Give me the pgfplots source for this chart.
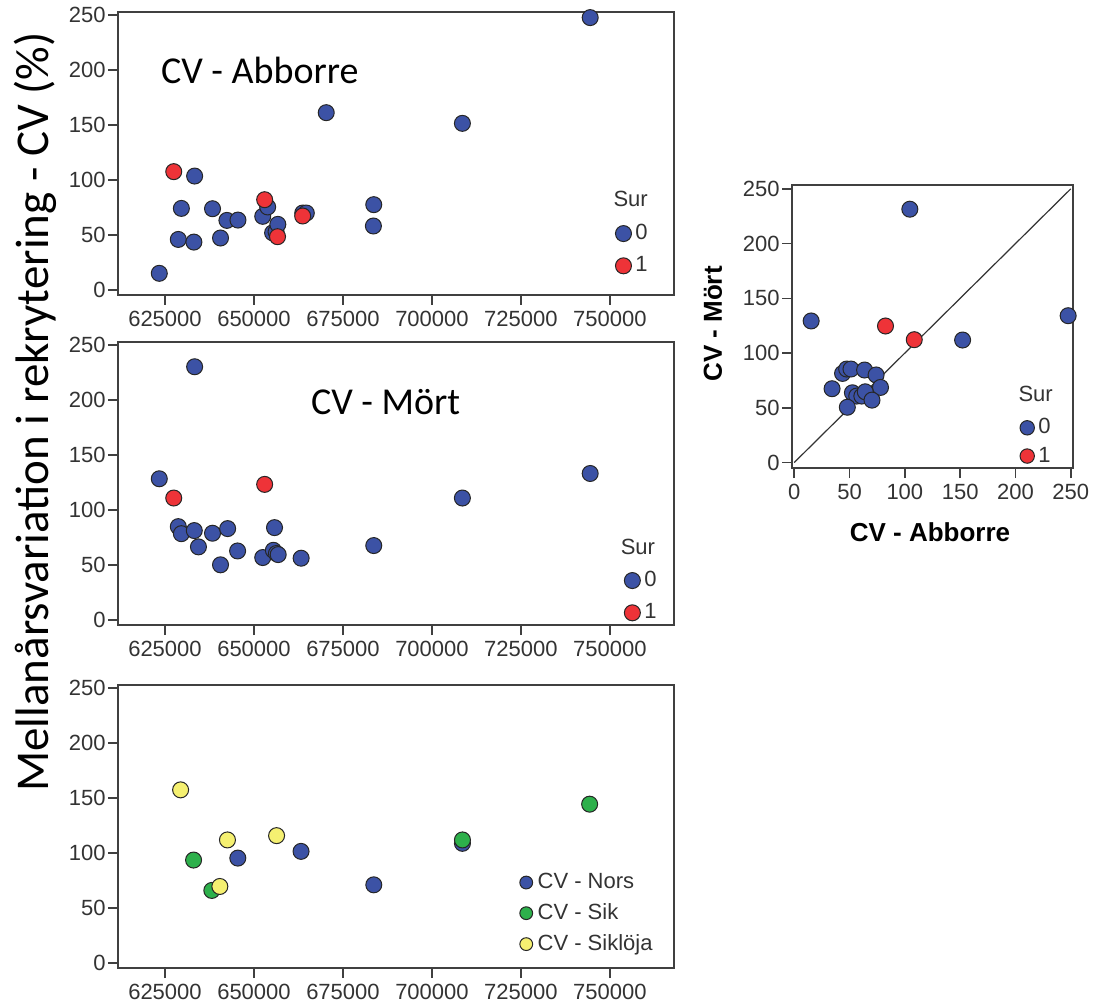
\documentclass[border=0pt]{standalone}
\usepackage{pgfplots}
\pgfplotsset{compat=1.18}
\usepackage{fontspec}
\setmainfont{Liberation Sans}
\newfontfamily\calfont{Carlito}

\definecolor{sblue}{RGB}{60,82,165}
\definecolor{sred}{RGB}{238,51,56}
\definecolor{sgreen}{RGB}{45,176,75}
\definecolor{syellow}{RGB}{245,240,113}

\pgfplotsset{
  spss/.style={
    scale only axis,
    axis line style={black!75, line width=0.8pt},
    tick style={black!75, line width=0.8pt},
    major tick length=5pt,
    tick align=outside,
    xtick pos=left, ytick pos=left,
    ticklabel style={font=\fontsize{11}{13}\selectfont, text=black!80},
    yticklabel style={inner sep=1pt},
    xticklabel style={inner sep=3pt},
    /pgf/number format/assume math mode=true,
    clip mode=individual,
    legend style={draw=none, fill=none, font=\fontsize{11}{13}\selectfont,
      text=black!80, inner sep=0pt, row sep=3pt, cells={anchor=west}},
    legend image code/.code={\draw[mark repeat=2,mark phase=2,##1] plot coordinates {(0cm,0cm) (0.14cm,0cm) (0.28cm,0cm)};},
  },
  geo/.style={spss, width=278pt, height=141.5pt,
    xmin=611800, xmax=768000, ymin=-4.5, ymax=252.7,
    xtick={625000,650000,675000,700000,725000,750000},
    ytick={0,50,100,150,200,250},
    scaled x ticks=false,
    xticklabel style={/pgf/number format/.cd, fixed, 1000 sep={}}},
  pt/.style={only marks, mark=*, mark size=4pt,
    mark options={fill=#1, draw=black!85, line width=0.5pt}},
}

\begin{document}
\begin{tikzpicture}
\useasboundingbox (0,0) rectangle (547.5pt,501pt);

% --- CV - Abborre
\begin{axis}[geo, at={(59pt,353.5pt)}, anchor=south west,
  legend style={at={(0.894,0.265)}, anchor=north west}]
\addplot[pt=sblue] coordinates {
  (623400,15.2) (633330,103.6) (629600,74.2) (628740,46.0) (633120,43.6)
  (638350,73.9) (640600,47.3) (642400,63.3) (645500,63.6) (652460,67.0)
  (653850,75.5) (655230,52.0) (656200,53.0) (656700,59.7) (663700,70.0)
  (664700,70.0) (670300,161.2) (683650,77.6) (683550,58.2) (708550,151.5)
  (744450,247.6)
};
\addlegendentry{0}
\addplot[pt=sred] coordinates {
  (627460,107.6) (653000,82.1) (656620,48.5) (663680,67.3)
};
\addlegendentry{1}
\node[font=\fontsize{11}{13}\selectfont, text=black!80] at (rel axis cs:0.922,0.338) {Sur};
\end{axis}

% --- CV - Mört
\begin{axis}[geo, at={(59pt,188.5pt)}, anchor=south west,
  legend style={at={(0.91,0.205)}, anchor=north west}]
\addplot[pt=sblue] coordinates {
  (623400,128.4) (633330,230.2) (628740,84.9) (629600,78.5) (633230,81.3)
  (634400,66.5) (638350,78.9) (642600,83.1) (640600,50.2) (645400,62.8)
  (652460,56.8) (655770,84.0) (655450,63.4) (656300,60.5) (656800,59.5)
  (663250,56.2) (683650,67.7) (708550,110.9) (744450,133.2)
};
\addlegendentry{0}
\addplot[pt=sred] coordinates {
  (627460,110.9) (653000,123.3)
};
\addlegendentry{1}
\node[font=\fontsize{11}{13}\selectfont, text=black!80] at (rel axis cs:0.935,0.275) {Sur};
\end{axis}

% --- Nors, Sik, Siklöja
\begin{axis}[geo, at={(59pt,17pt)}, anchor=south west,
  legend style={at={(0.722,0.35)}, anchor=north west, row sep=2pt,
    nodes={inner xsep=2.5pt}},
  legend image post style={mark size=3.2pt}]
\addplot[pt=sblue] coordinates {
  (645460,95.4) (663220,101.5) (683660,71.1) (708570,108.8)
};
\addlegendentry{CV - Nors}
\addplot[pt=sgreen] coordinates {
  (633030,93.6) (638160,66.0) (708570,111.9) (744300,144.4)
};
\addlegendentry{CV - Sik}
\addplot[pt=syellow] coordinates {
  (629390,157.4) (642550,111.9) (656350,115.8) (640410,69.6)
};
\addlegendentry{CV - Siklöja}
\end{axis}

% --- Abborre vs Mört
\begin{axis}[spss, width=140.5pt, height=141.5pt,
  at={(396pt,267pt)}, anchor=south west,
  xmin=-2, xmax=252, ymin=-5, ymax=253.5,
  xtick={0,50,100,150,200,250}, ytick={0,50,100,150,200,250},
  legend style={at={(0.81,0.19)}, anchor=north west, row sep=1pt},
  legend image post style={mark size=3.6pt}]
\addplot[black!80, line width=0.6pt, forget plot] coordinates {(0,0) (250,250)};
\addplot[pt=sblue] coordinates {
  (104.5,231.4) (15.3,129.3) (152.2,111.9) (247.6,134.1)
  (43.7,81.4) (47.4,85.4) (51.3,85.4) (63.6,84.5) (74.0,80.0)
  (34.2,67.4) (78.0,68.6) (52.6,63.7) (56.5,60.7) (61.1,60.7)
  (64.2,64.6) (70.3,57.0) (48.0,50.5)
};
\addlegendentry{0}
\addplot[pt=sred] coordinates {(82.5,124.7) (108.5,112.2)};
\addlegendentry{1}
\node[font=\fontsize{11}{13}\selectfont, text=black!80] at (rel axis cs:0.867,0.26) {Sur};
\end{axis}

% --- text
\node[rotate=90, font=\calfont\fontsize{23.5}{27}\selectfont] at (17.5pt,295pt)
  {Mellanårsvariation i rekrytering - CV (\%)};
\node[anchor=west, font=\calfont\fontsize{19}{23}\selectfont] at (77pt,466pt) {CV - Abborre};
\node[anchor=west, font=\calfont\fontsize{19}{23}\selectfont] at (152pt,300pt) {CV - Mört};
\node[font=\bfseries\fontsize{13}{15}\selectfont] at (465pt,235pt) {CV - Abborre};
\node[rotate=90, font=\bfseries\fontsize{13}{15}\selectfont] at (356.5pt,339pt) {CV - Mört};
\end{tikzpicture}
\end{document}
